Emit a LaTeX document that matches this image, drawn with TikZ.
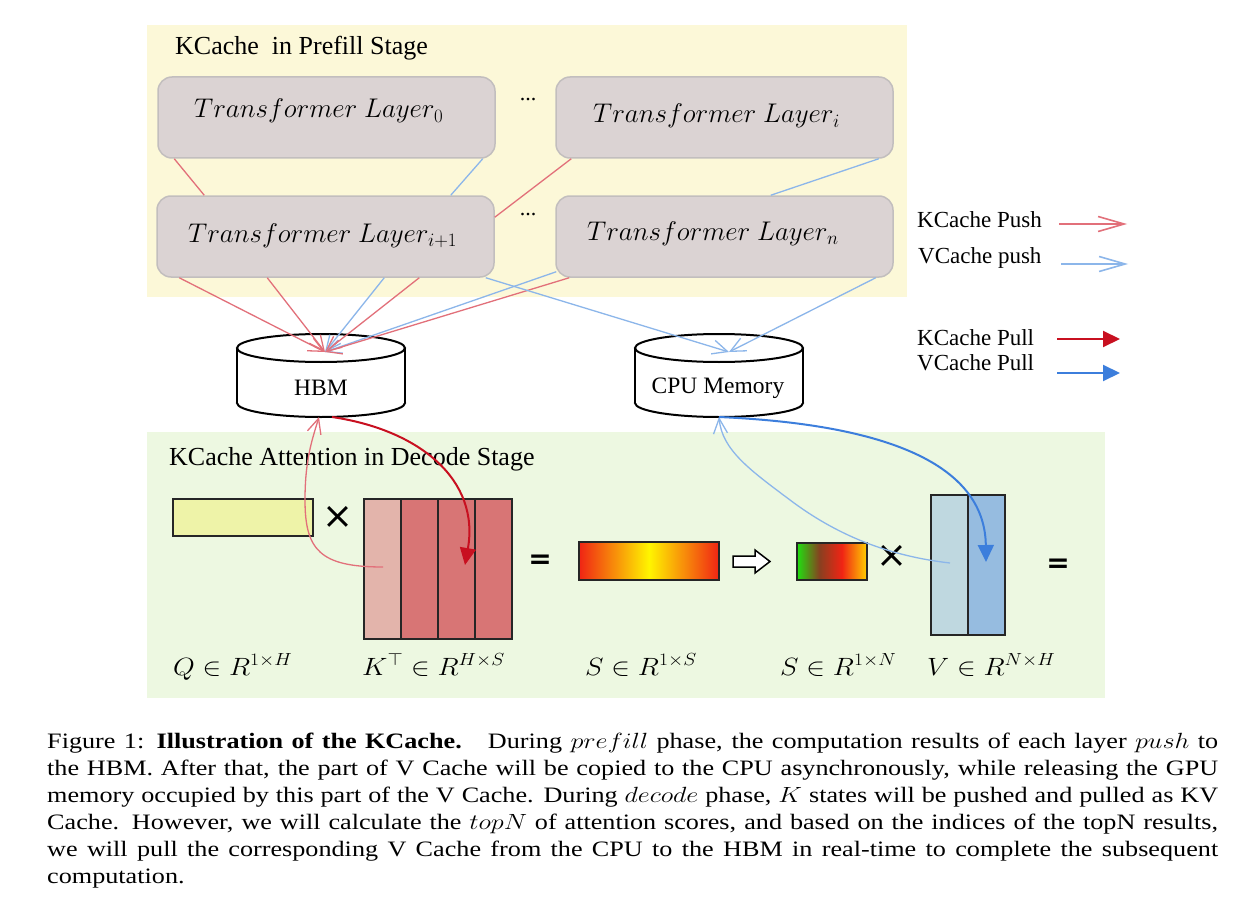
\RequirePackage{fix-cm}
\documentclass[tikz,border=0pt]{standalone}
\usepackage{graphicx}
\usepackage{fontspec}
\setmainfont{Liberation Serif}
\newfontfamily\djv{DejaVu Sans}
\usetikzlibrary{arrows.meta,calc}
\definecolor{yellowbg}{HTML}{FCF8D8}
\definecolor{greenbg}{HTML}{EDF8E1}
\definecolor{boxfill}{HTML}{DBD3D3}
\definecolor{boxline}{HTML}{C2BEBE}
\definecolor{pushred}{HTML}{E2707A}
\definecolor{pushblue}{HTML}{8CB6EA}
\definecolor{pullred}{HTML}{C81020}
\definecolor{pullblue}{HTML}{3C7EDC}
\definecolor{qfill}{HTML}{EEF3A8}
\definecolor{kfillA}{HTML}{E3B4AB}
\definecolor{kfillB}{HTML}{D87575}
\definecolor{vfillA}{HTML}{BFD8E0}
\definecolor{vfillB}{HTML}{96BCE0}
\definecolor{sred}{HTML}{F02414}
\definecolor{syellow}{HTML}{FFF500}
\definecolor{sgreen}{HTML}{20E010}
\definecolor{sbrown}{HTML}{884020}
\definecolor{sorange}{HTML}{FFD000}
\pgfdeclarehorizontalshading{topn}{100bp}{color(0bp)=(sgreen); color(25bp)=(sgreen); color(41bp)=(sbrown); color(57bp)=(sred); color(75bp)=(sorange); color(100bp)=(sorange)}
\newcommand{\wlbl}[1]{\scalebox{1.12}[1]{#1}}
\begin{document}
\begin{tikzpicture}[x=1pt,y=-1pt,
  layer/.style={draw=boxline, fill=boxfill, line width=1.5pt, rounded corners=14pt, minimum width=337pt, minimum height=81pt, inner sep=0pt},
  layertxt/.style={anchor=base west, inner sep=0pt, font=\fontsize{27}{30}\selectfont},
  title/.style={anchor=base west, inner sep=0pt, font=\fontsize{26}{30}\selectfont},
  legtxt/.style={anchor=base west, inner sep=0pt, font=\fontsize{23}{26}\selectfont},
  memtxt/.style={anchor=base, inner sep=0pt, font=\fontsize{23.5}{26}\selectfont},
  lbl/.style={anchor=base west, inner sep=0pt, font=\fontsize{25}{28}\selectfont},
  kpush/.style={draw=pushred, line width=1.3pt},
  vpush/.style={draw=pushblue, line width=1.3pt},
  pushtip/.style={-{Straight Barb[length=15pt,width=14pt,line width=1.3pt]}},
  legpushtip/.style={-{Straight Barb[length=26pt,width=15pt,line width=1.6pt]}},
  kpull/.style={draw=pullred, line width=2pt, -{Triangle[length=17pt,width=16pt]}},
  vpull/.style={draw=pullblue, line width=2pt, -{Triangle[length=17pt,width=16pt]}},
  mat/.style={draw=black!85, line width=1.8pt},
  opsym/.style={inner sep=0pt, font=\djv\fontsize{37}{37}\selectfont},
  eqsym/.style={inner sep=0pt, font=\djv\bfseries\fontsize{28}{28}\selectfont}
]
\useasboundingbox (0,0) rectangle (1248,915);
\fill[white] (0,0) rectangle (1248,915);

% panels
\fill[yellowbg] (147,25) rectangle (907,297);
\fill[greenbg] (147,432) rectangle (1105,698);
\node[title] (ptitle) at (175,55) {KCache\ \ in Prefill Stage};
\node[title] (dtitle) at (169,465) {KCache Attention in Decode Stage};

% layers
\node[layer] (l0) at (326.5,117.5) {};
\node[layer] (li) at (724.5,117.5) {};
\node[layer] (l1) at (325.5,236.5) {};
\node[layer] (ln) at (724.5,236.5) {};
\node[layertxt] (l0t) at (194,118) {$Transformer\ Layer_0$};
\node[layertxt] (lit) at (593,123) {$Transformer\ Layer_i$};
\node[layertxt] (l1t) at (188,242) {$Transformer\ Layer_{i+1}$};
\node[layertxt] (lnt) at (587,240) {$Transformer\ Layer_n$};
\node[inner sep=0pt, font=\fontsize{22}{22}\selectfont] (dotsA) at (528,100) {...};
\node[inner sep=0pt, font=\fontsize{22}{22}\selectfont] (dotsB) at (528,215) {...};

% connections between layers
\draw[kpush] ($(l0.south west)+(17,0)$) -- ($(l1.north west)+(48,0)$);
\draw[vpush] ($(l0.south east)+(-13,0)$) -- ($(l1.north east)+(-44,0)$);
\draw[kpush] ($(li.south west)+(16,0)$) -- ($(l1.north east)+(0,22)$);
\draw[vpush] ($(li.south east)+(-15,0)$) -- ($(ln.north east)+(-123,0)$);

% memories
\begin{scope}[line width=2pt]
\filldraw[fill=white] (321,403) ellipse [x radius=84, y radius=14];
\fill[white] (237,348) rectangle (405,403);
\draw (237,348) -- (237,403) (405,348) -- (405,403);
\filldraw[fill=white] (321,348) ellipse [x radius=84, y radius=14];
\filldraw[fill=white] (719,403) ellipse [x radius=84, y radius=14];
\fill[white] (635,348) rectangle (803,403);
\draw (635,348) -- (635,403) (803,348) -- (803,403);
\filldraw[fill=white] (719,348) ellipse [x radius=84, y radius=14];
\end{scope}
\node[memtxt] (hbm) at (321,395) {HBM};
\node[memtxt] (cpu) at (718,393) {CPU Memory};
\coordinate (hbmtop) at (325,352);
\coordinate (cputop) at (729,352);
\coordinate (hbmbotA) at (319,417);
\coordinate (hbmbotB) at (332,417);
\coordinate (cpubot) at (719,417);

% push arrows to memories
\draw[kpush,pushtip] ($(l1.south west)+(23,0)$) -- (hbmtop);
\draw[kpush,pushtip] ($(l1.south west)+(111,0)$) -- (hbmtop);
\draw[vpush,pushtip] ($(l1.south west)+(228,0)$) -- (hbmtop);
\draw[kpush,pushtip] ($(l1.south west)+(263,0)$) -- (hbmtop);
\draw[vpush,pushtip] ($(ln.south west)+(1,-6)$) -- (hbmtop);
\draw[kpush,pushtip] ($(ln.south west)+(14,0)$) -- (hbmtop);
\draw[vpush,pushtip] ($(l1.south east)+(-9,0)$) -- (cputop);
\draw[vpush,pushtip] ($(ln.south east)+(-18,0)$) -- (cputop);

% matrices
\filldraw[mat, fill=qfill] (173,499) rectangle (313,536);
\filldraw[mat, fill=kfillA] (364,499) rectangle (401,639);
\filldraw[mat, fill=kfillB] (401,499) rectangle (438,639);
\filldraw[mat, fill=kfillB] (438,499) rectangle (475,639);
\filldraw[mat, fill=kfillB] (475,499) rectangle (512,639);
\shade[left color=sred, right color=sred, middle color=syellow] (579,542) rectangle (719,580);
\draw[mat] (579,542) rectangle (719,580);
\shade[shading=topn] (797,543) rectangle (867,580);
\draw[mat] (797,543) rectangle (867,580);
\filldraw[mat, fill=vfillA] (931,495) rectangle (968,635);
\filldraw[mat, fill=vfillB] (968,495) rectangle (1005,635);
\filldraw[draw=black, line width=1.5pt, fill=white] (733,556) -- (755,556) -- (755,550) -- (770,561.5) -- (755,573) -- (755,567) -- (733,567) -- cycle;
\node[opsym] (timesA) at (338,517) {×};
\node[opsym] (timesB) at (892,556) {×};
\node[eqsym] (eqA) at (540,562) {=};
\node[eqsym] (eqB) at (1058,566) {=};

\coordinate (kcolA) at (383,567);
\coordinate (kcolC) at (465,565);
\coordinate (vcolA) at (950,563);
\coordinate (vcolB) at (986,562);

% decode stage curves
\draw[kpush,pushtip] (kcolA) .. controls (320,567) and (305,550) .. (305,500) .. controls (305,460) and (312,440) .. (hbmbotA);
\draw[kpull] (hbmbotB) .. controls (420,430) and (480,480) .. (kcolC);
\draw[vpush,pushtip] (vcolA) .. controls (880,555) and (830,530) .. (790,500) .. controls (750,470) and (722,450) .. (cpubot);
\draw[vpull] (cpubot) .. controls (900,425) and (985,470) .. (vcolB);

% labels
\node[lbl] (lq) at (173,675) {\wlbl{$Q\in R^{1\times H}$}};
\node[lbl] (lk) at (362,675) {\wlbl{$K^{\top}\in R^{H\times S}$}};
\node[lbl] (ls) at (585,675) {\wlbl{$S\in R^{1\times S}$}};
\node[lbl] (lsn) at (780,675) {\wlbl{$S\in R^{1\times N}$}};
\node[lbl] (lv) at (927,675) {\wlbl{$V\in R^{N\times H}$}};

% legend
\node[legtxt] (gkpush) at (917,227) {KCache Push};
\node[legtxt] (gvpush) at (918,263) {VCache push};
\node[legtxt] (gkpull) at (917,345) {KCache Pull};
\node[legtxt] (gvpull) at (917,370) {VCache Pull};
\coordinate (a1s) at (1059,224); \coordinate (a1e) at (1127,224);
\coordinate (a2s) at (1061,264); \coordinate (a2e) at (1128,264);
\coordinate (a3s) at (1057,339); \coordinate (a3e) at (1120,339);
\coordinate (a4s) at (1057,373); \coordinate (a4e) at (1120,373);
\draw[kpush, line width=1.6pt, legpushtip] (a1s) -- (a1e);
\draw[vpush, line width=1.6pt, legpushtip] (a2s) -- (a2e);
\draw[kpull] (a3s) -- (a3e);
\draw[vpull] (a4s) -- (a4e);

% caption
\node[anchor=north west, inner sep=0pt] (cap) at (47,733) {\scalebox{1.19}[1]{\parbox[t]{984pt}{\fontsize{22}{27}\selectfont Figure 1: \textbf{Illustration of the KCache.}\quad During $prefill$ phase, the computation results of each layer $push$ to\linebreak the HBM. After that, the part of V Cache will be copied to the CPU asynchronously, while releasing the GPU\linebreak memory occupied by this part of the V Cache. During $decode$ phase, $K$ states will be pushed and pulled as KV\linebreak Cache. However, we will calculate the $topN$ of attention scores, and based on the indices of the topN results,\linebreak we will pull the corresponding V Cache from the CPU to the HBM in real-time to complete the subsequent\linebreak computation.}}};
\end{tikzpicture}
\end{document}
